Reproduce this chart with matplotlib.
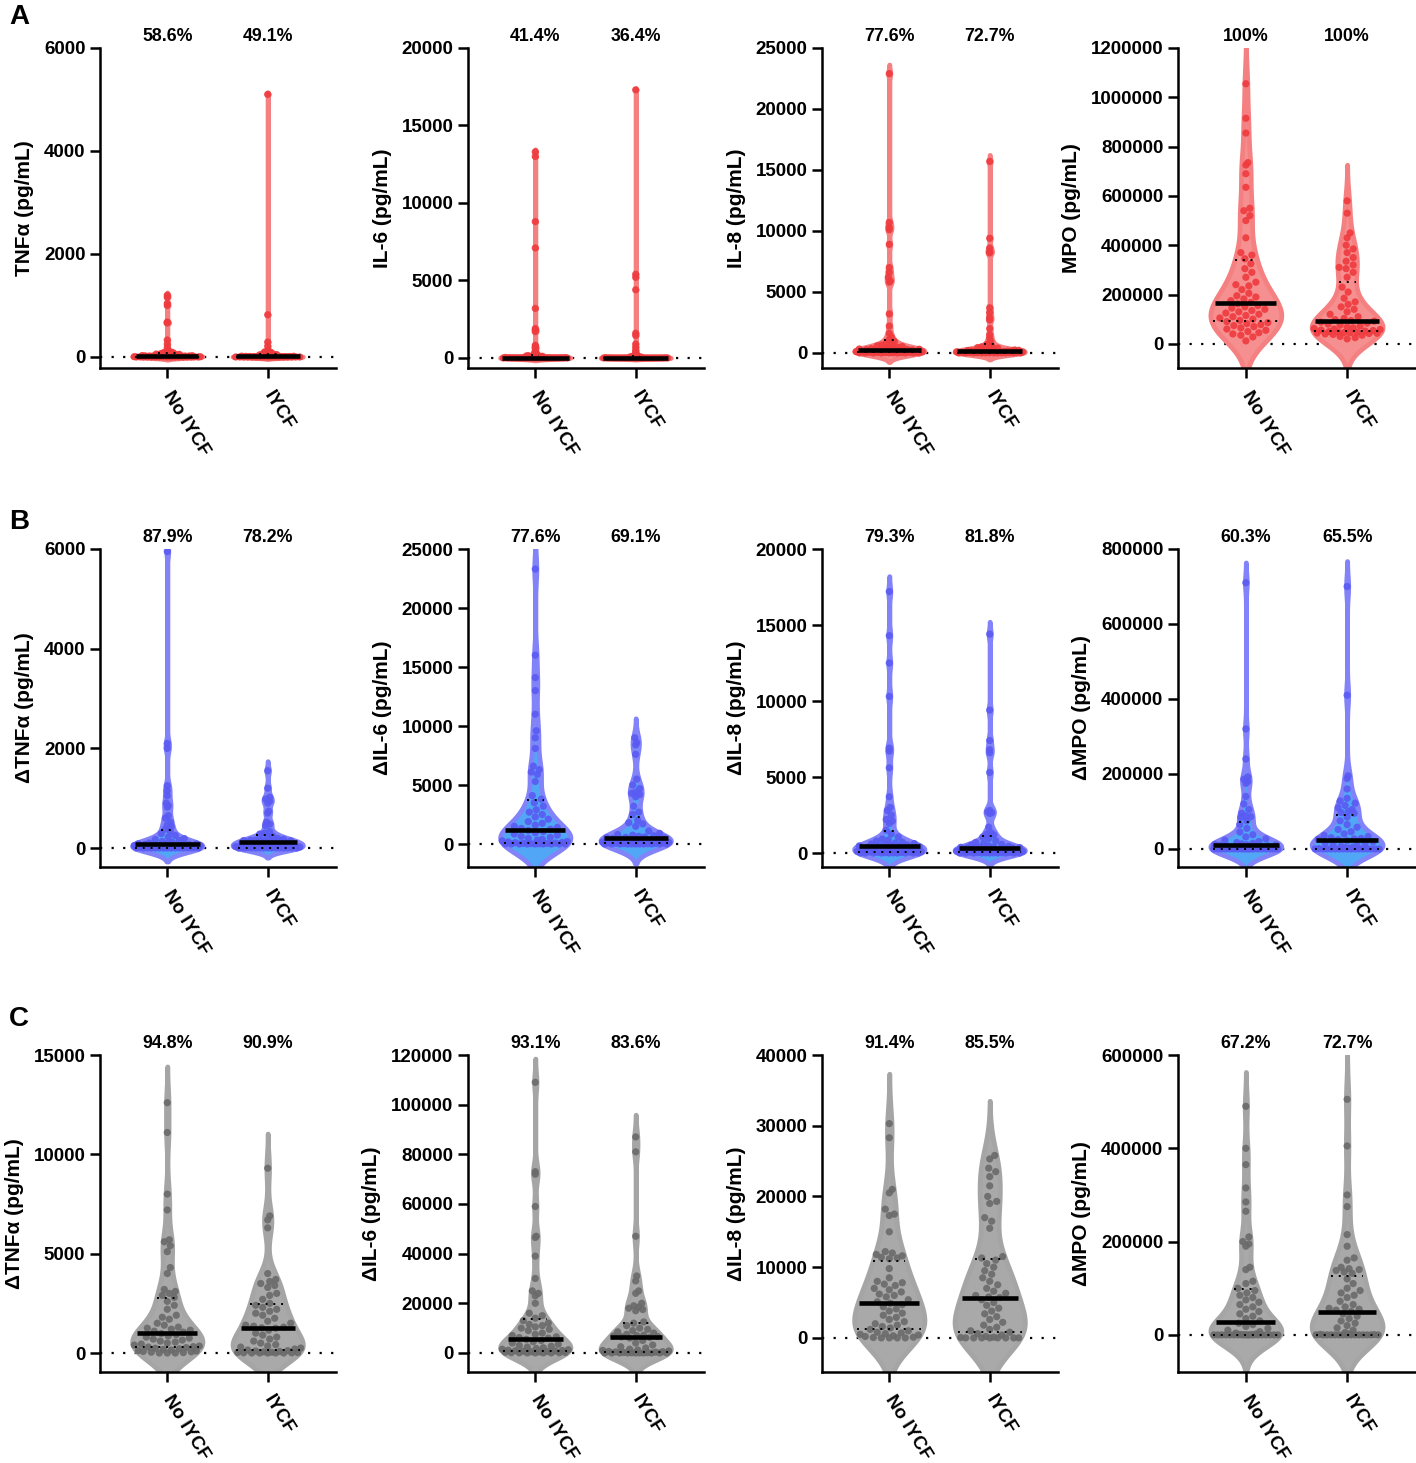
import numpy as np
import matplotlib
matplotlib.use('Agg')
import matplotlib.pyplot as plt
from matplotlib.transforms import blended_transform_factory

plt.rcParams['font.family'] = ['Liberation Sans', 'DejaVu Sans']
plt.rcParams['font.weight'] = 'bold'
plt.rcParams['axes.labelweight'] = 'bold'

# ---------------- data ----------------
categories = ['No IYCF', 'IYCF']

# Row A (baseline)
tnf_no = [1200, 1160, 1040, 1000, 680, 660, 330, 250, 180, 120, 105, 95, 88, 80, 74, 68, 62, 57, 52, 48,
          44, 40, 37, 34, 31, 28, 25, 22, 20, 18, 16, 14, 12, 10, 9, 8, 7, 6, 5, 4,
          4, 3, 3, 2, 2, 1, 1, 1, 0, 0, 0, 0, 0, 0, 0, 0, 0, 0]
tnf_iycf = [5100, 820, 290, 210, 130, 110, 100, 92, 85, 78, 72, 66, 60, 55, 50, 46, 42, 38, 34, 30,
            27, 24, 21, 18, 16, 14, 12, 10, 9, 8, 7, 6, 5, 4, 3, 3, 2, 2, 1, 1,
            1, 0, 0, 0, 0, 0, 0, 0, 0, 0, 0, 0, 0, 0, 0]
il6_no = [13300, 13000, 8800, 7100, 3200, 1900, 1800, 1700, 820, 700, 620, 450, 350, 280, 220, 180, 150, 130, 110, 95,
          80, 70, 60, 50, 42, 35, 28, 22, 18, 14, 10, 8, 6, 4, 2, 1, 0, 0, 0, 0,
          0, 0, 0, 0, 0, 0, 0, 0, 0, 0, 0, 0, 0, 0, 0, 0, 0, 0]
il6_iycf = [17300, 5400, 5200, 4400, 1600, 1450, 900, 700, 520, 400, 300, 240, 190, 150, 120, 100, 85, 70, 58, 46,
            36, 28, 20, 14, 9, 5, 2, 0, 0, 0, 0, 0, 0, 0, 0, 0, 0, 0, 0, 0,
            0, 0, 0, 0, 0, 0, 0, 0, 0, 0, 0, 0, 0, 0, 0]
il8_no = [22900, 10700, 10300, 10100, 8900, 7000, 6600, 6200, 5900, 5800, 3200, 2200, 1600, 1300, 1100, 950, 820, 720, 640, 580,
          520, 470, 430, 400, 370, 345, 320, 300, 280, 260, 240, 220, 200, 185, 170, 155, 140, 125, 110, 100,
          90, 80, 70, 60, 50, 40, 30, 20, 12, 6, 0, 0, 0, 0, 0, 0, 0, 0]
il8_iycf = [15700, 9400, 8600, 8300, 8200, 3700, 3300, 2900, 2700, 2000, 1500, 1200, 950, 800, 680, 580, 500, 440, 390, 340,
            300, 270, 240, 215, 195, 180, 165, 150, 138, 126, 115, 104, 94, 85, 76, 68, 60, 52, 45, 38,
            30, 22, 15, 8, 0, 0, 0, 0, 0, 0, 0, 0, 0, 0, 0]
mpo_no = [1055000, 915000, 855000, 735000, 725000, 690000, 635000, 550000, 540000, 520000, 500000, 430000, 370000, 360000,
          345000, 325000, 305000, 290000, 270000, 250000, 240000, 235000, 220000, 205000, 195000, 190000, 182000, 175000,
          168000, 162000, 155000, 150000, 145000, 140000, 135000, 130000, 125000, 120000, 115000, 110000, 105000, 100000,
          95000, 90000, 86000, 82000, 78000, 74000, 70000, 65000, 60000, 55000, 50000, 45000, 40000, 35000, 28000, 12000]
mpo_iycf = [580000, 530000, 450000, 430000, 400000, 385000, 370000, 350000, 335000, 320000, 310000, 305000, 290000, 270000,
            230000, 210000, 185000, 170000, 160000, 150000, 140000, 130000, 120000, 110000, 103000, 98000, 94000, 92000,
            88000, 84000, 80000, 76000, 72000, 68000, 65000, 62000, 60000, 58000, 56000, 54000, 52000, 50000, 48000,
            47000, 46000, 45000, 44000, 43000, 42000, 40000, 38000, 35000, 30000, 25000, 20000]

# Row B (delta)
dtnf_b_no = [5950, 2100, 2000, 1250, 1150, 1050, 900, 850, 820, 650, 600, 520, 460, 430, 380, 330, 290, 250, 220, 190,
             170, 150, 130, 115, 100, 92, 85, 80, 75, 70, 65, 60, 55, 50, 45, 40, 35, 30, 25, 20,
             15, 10, 6, 3, 2, 1, 0, 0, 0, 0, 0, 0, 0, 0, 0, 0, 0, 0]
dtnf_b_iycf = [1550, 1200, 1020, 980, 940, 900, 740, 700, 520, 480, 450, 330, 300, 280, 240, 210, 190, 175, 165, 160,
               155, 150, 145, 140, 135, 130, 128, 125, 120, 110, 100, 90, 80, 70, 60, 50, 40, 30, 20, 12,
               6, 3, 1, 0, 0, 0, 0, 0, 0, 0, 0, 0, 0, 0, 0]
dil6_b_no = [23300, 16000, 14100, 13000, 11000, 9600, 9000, 8100, 6600, 6300, 6100, 5900, 5300, 4100, 3800, 3500, 3200, 2900,
             2700, 2500, 2300, 2100, 1900, 1750, 1600, 1500, 1400, 1320, 1250, 1150, 1050, 950, 850, 750, 650, 560,
             480, 400, 330, 270, 220, 180, 140, 110, 80, 60, 45, 30, 20, 10, 5, 0, 0, 0, 0, 0, 0, 0]
dil6_b_iycf = [9000, 8600, 8400, 7600, 5500, 5000, 4700, 4400, 4300, 4200, 4000, 3200, 2700, 2500, 2000, 1800, 1700, 1500,
               1100, 900, 800, 750, 700, 650, 600, 560, 530, 500, 470, 430, 390, 350, 310, 270, 230, 200,
               170, 140, 110, 90, 70, 50, 35, 20, 10, 5, 0, 0, 0, 0, 0, 0, 0, 0, 0]
dil8_b_no = [17200, 14300, 12500, 10300, 6900, 6700, 5600, 3700, 3000, 2800, 2500, 2200, 2100, 1950, 1500, 1250, 1050, 920,
             850, 780, 720, 660, 620, 590, 560, 530, 510, 490, 470, 430, 400, 370, 340, 310, 280, 250,
             220, 195, 170, 150, 130, 110, 90, 75, 60, 45, 30, 20, 10, 5, 2, 0, 0, 0, 0, 0, 0, 0]
dil8_b_iycf = [14400, 9400, 7400, 6800, 6600, 5300, 2800, 2700, 2650, 2600, 1700, 1350, 1250, 1200, 1050, 950, 800, 700,
               620, 560, 510, 470, 440, 410, 390, 375, 360, 350, 330, 300, 270, 240, 210, 180, 160, 140,
               120, 100, 85, 70, 55, 40, 30, 20, 10, 5, 2, 1, 0, 0, 0, 0, 0, 0, 0]
dmpo_b_no = [710000, 320000, 240000, 192000, 186000, 180000, 175000, 140000, 120000, 105000, 95000, 88000, 86000, 84000,
             75000, 65000, 55000, 45000, 38000, 32000, 27000, 23000, 20000, 17000, 15000, 13500, 12000, 11000,
             10500, 9500, 8500, 7500, 6500, 5500, 4500, 3500, 2500, 1500, 800, 400, 0, 0,
             0, 0, 0, 0, 0, 0, 0, 0, 0, 0, 0, 0, 0, 0, 0, 0]
dmpo_b_iycf = [700000, 410000, 195000, 188000, 160000, 135000, 128000, 122000, 116000, 110000, 105000, 100000, 97000, 95000,
               85000, 75000, 65000, 58000, 52000, 46000, 40000, 36000, 33000, 30000, 28000, 27000, 26000, 25000,
               22000, 19000, 16000, 13000, 11000, 9000, 7000, 5000, 3500, 2000, 1000, 0, 0, 0,
               0, 0, 0, 0, 0, 0, 0, 0, 0, 0, 0, 0, 0]

# Row C (delta)
dtnf_c_no = [12600, 11100, 8000, 7200, 5700, 5600, 5400, 5100, 4300, 4000, 3200, 3100, 3000, 2900, 2800, 2600, 2400, 2200,
             1900, 1800, 1700, 1500, 1400, 1300, 1250, 1200, 1150, 1100, 1050, 980, 920, 860, 800, 750, 700, 650,
             600, 550, 500, 450, 400, 350, 320, 300, 270, 240, 210, 180, 150, 120, 100, 80, 60, 40, 20, 0, 0, 0]
dtnf_c_iycf = [9300, 6900, 6700, 6300, 4000, 3700, 3600, 3500, 3400, 3300, 3000, 2900, 2700, 2500, 2400, 2300, 2200, 2100,
               2000, 1900, 1750, 1600, 1500, 1400, 1350, 1300, 1270, 1250, 1150, 1000, 900, 800, 700, 600, 500,
               420, 350, 300, 250, 200, 150, 120, 100, 80, 60, 40, 30, 20, 10, 5, 0, 0, 0, 0, 0]
dil6_c_no = [109000, 73000, 72000, 59000, 47000, 46500, 39000, 30000, 25000, 24000, 23000, 20000, 16000, 15000, 14000,
             13000, 12000, 11500, 11000, 10500, 10000, 9500, 9000, 8000, 7500, 7000, 6500, 6200, 6000, 5500, 5000,
             4500, 4000, 3500, 3000, 2700, 2400, 2100, 1800, 1500, 1300, 1100, 1000, 900, 800, 700, 600, 500, 400,
             300, 200, 100, 60, 30, 0, 0, 0, 0]
dil6_c_iycf = [87000, 81000, 47000, 31000, 29000, 25000, 24000, 20000, 19000, 18500, 18000, 17500, 17000, 12500, 12000,
               11000, 10000, 9500, 9000, 8500, 8000, 7500, 7200, 7000, 6800, 6600, 6500, 6300, 6000, 5000, 4000,
               3200, 2500, 2000, 1500, 1200, 1000, 800, 600, 500, 400, 300, 200, 100, 50, 20, 0, 0, 0, 0, 0, 0, 0, 0, 0]
dil8_c_no = [30300, 28300, 21000, 20500, 18200, 17500, 17300, 15000, 12200, 12000, 11800, 11600, 11400, 11300, 11200,
             9800, 8500, 8000, 7800, 7600, 7400, 7000, 6800, 6500, 6200, 6000, 5800, 5400, 5100, 4900, 4700, 4400,
             4100, 3800, 3500, 3200, 2900, 2600, 2300, 2000, 1800, 1600, 1400, 1200, 1000, 800, 700, 600, 500, 400,
             300, 200, 100, 50, 0, 0, 0, 0]
dil8_c_iycf = [25800, 25300, 24000, 23500, 22800, 21500, 20000, 19300, 19000, 17000, 16500, 15500, 11500, 11300, 11000,
               10500, 10000, 9500, 9000, 8500, 8000, 7500, 7000, 6600, 6300, 6000, 5800, 5700, 5400, 5000, 4600,
               4200, 3800, 3400, 3000, 2600, 2200, 1800, 1500, 1200, 1000, 800, 600, 400, 200, 100, 50,
               0, 0, 0, 0, 0, 0, 0, 0]
dmpo_c_no = [490000, 400000, 365000, 315000, 285000, 265000, 210000, 200000, 195000, 190000, 145000, 140000, 115000, 110000,
             100000, 95000, 90000, 85000, 80000, 75000, 70000, 65000, 60000, 55000, 50000, 45000, 40000, 35000, 30000,
             25000, 22000, 18000, 14000, 10000, 7000, 4000, 2000, 1000, 500, 300,
             0, 0, 0, 0, 0, 0, 0, 0, 0, 0, 0, 0, 0, 0, 0, 0, 0, 0]
dmpo_c_iycf = [505000, 405000, 300000, 275000, 215000, 190000, 165000, 160000, 145000, 142000, 140000, 138000, 135000, 132000,
               120000, 110000, 100000, 95000, 90000, 85000, 80000, 72000, 65000, 60000, 57000, 55000, 53000, 50000,
               45000, 40000, 35000, 30000, 25000, 20000, 15000, 10000, 5000, 2000, 1000, 500,
               0, 0, 0, 0, 0, 0, 0, 0, 0, 0, 0, 0, 0, 0, 0]

# y-axis ticks
ticks_tnf_a = [0, 2000, 4000, 6000]
ticks_il6_a = [0, 5000, 10000, 15000, 20000]
ticks_il8_a = [0, 5000, 10000, 15000, 20000, 25000]
ticks_mpo_a = [0, 200000, 400000, 600000, 800000, 1000000, 1200000]
ticks_tnf_b = [0, 2000, 4000, 6000]
ticks_il6_b = [0, 5000, 10000, 15000, 20000, 25000]
ticks_il8_b = [0, 5000, 10000, 15000, 20000]
ticks_mpo_b = [0, 200000, 400000, 600000, 800000]
ticks_tnf_c = [0, 5000, 10000, 15000]
ticks_il6_c = [0, 20000, 40000, 60000, 80000, 100000, 120000]
ticks_il8_c = [0, 10000, 20000, 30000, 40000]
ticks_mpo_c = [0, 200000, 400000, 600000]

pct_a = [('58.6%', '49.1%'), ('41.4%', '36.4%'), ('77.6%', '72.7%'), ('100%', '100%')]
pct_b = [('87.9%', '78.2%'), ('77.6%', '69.1%'), ('79.3%', '81.8%'), ('60.3%', '65.5%')]
pct_c = [('94.8%', '90.9%'), ('93.1%', '83.6%'), ('91.4%', '85.5%'), ('67.2%', '72.7%')]

ylabels_a = ['TNFα (pg/mL)', 'IL-6 (pg/mL)', 'IL-8 (pg/mL)', 'MPO (pg/mL)']
ylabels_d = ['ΔTNFα (pg/mL)', 'ΔIL-6 (pg/mL)', 'ΔIL-8 (pg/mL)', 'ΔMPO (pg/mL)']

# ---------------- layout / style ----------------
W, H = 1416, 1463
fig = plt.figure(figsize=(W / 100, H / 100), dpi=100)

row_px = [(48, 368), (549, 867), (1055, 1372)]
col_px = [(100, 336), (468, 704), (822, 1058), (1178, 1416)]
ymins = [[-214, -647, -1238, -98000],
         [-381, -1949, -921, -48160],
         [-956, -7677, -4823, -79570]]
row_styles = [
    dict(fill='#F69090', edge='#F48081', pts='#EF3A3E'),
    dict(fill='#52A6F6', edge='#8282F9', pts='#5A5AF2'),
    dict(fill='#A9A9A9', edge='#A5A5A5', pts='#6A6A6A'),
]
rows = [
    dict(data=[(tnf_no, tnf_iycf), (il6_no, il6_iycf), (il8_no, il8_iycf), (mpo_no, mpo_iycf)],
         ticks=[ticks_tnf_a, ticks_il6_a, ticks_il8_a, ticks_mpo_a], pct=pct_a, labels=ylabels_a, letter='A'),
    dict(data=[(dtnf_b_no, dtnf_b_iycf), (dil6_b_no, dil6_b_iycf), (dil8_b_no, dil8_b_iycf), (dmpo_b_no, dmpo_b_iycf)],
         ticks=[ticks_tnf_b, ticks_il6_b, ticks_il8_b, ticks_mpo_b], pct=pct_b, labels=ylabels_d, letter='B'),
    dict(data=[(dtnf_c_no, dtnf_c_iycf), (dil6_c_no, dil6_c_iycf), (dil8_c_no, dil8_c_iycf), (dmpo_c_no, dmpo_c_iycf)],
         ticks=[ticks_tnf_c, ticks_il6_c, ticks_il8_c, ticks_mpo_c], pct=pct_c, labels=ylabels_d, letter='C'),
]
letter_y = [17, 522, 1019]

XLIM = (-0.67, 1.68)
MAXW = 0.35
DOT = 7.2  # marker diameter in px


def kde_profile(vals):
    v = np.asarray(vals, float)
    n = len(v)
    sd = v.std(ddof=1)
    q1, q3 = np.percentile(v, [25, 75])
    s = min(sd, (q3 - q1) / 1.34) if q3 > q1 else sd
    h = 0.9 * s * n ** (-0.2)
    grid = np.linspace(v.min() - 2.5 * h, v.max() + 2.5 * h, 800)
    dens = np.exp(-0.5 * ((grid[:, None] - v[None, :]) / h) ** 2).sum(axis=1)
    return grid, dens / dens.max() * MAXW


def swarm(vals, grid, half, ppx, ppy):
    v = np.asarray(vals, float)
    xs = np.zeros(len(v))
    px, py = [], []
    for i in np.argsort(v):
        ypx = v[i] * ppy
        cap = max(np.interp(v[i], grid, half) * ppx - DOT * 0.2, 0.0)
        steps = np.arange(1.0, cap + 0.01, 1.0)
        cands = np.concatenate([[0.0], np.column_stack([steps, -steps]).ravel()])
        if px:
            ax_ = np.array(px)
            ay_ = np.array(py)
            dist = np.sqrt((cands[:, None] - ax_[None, :]) ** 2 + (ypx - ay_[None, :]) ** 2).min(axis=1)
            ok = np.where(dist >= DOT)[0]
            j = ok[0] if len(ok) else int(np.argmax(dist))
        else:
            j = 0
        xs[i] = cands[j] / ppx
        px.append(cands[j])
        py.append(ypx)
    return xs


for r, row in enumerate(rows):
    top_px, bot_px = row_px[r]
    st = row_styles[r]
    for c in range(4):
        l_px, r_px = col_px[c]
        ax = fig.add_axes([l_px / W, 1 - bot_px / H, (r_px - l_px) / W, (bot_px - top_px) / H])
        ticks = row['ticks'][c]
        ymin, ymax = ymins[r][c], ticks[-1]
        ax.set_xlim(*XLIM)
        ax.set_ylim(ymin, ymax)
        ppx = (r_px - l_px) / (XLIM[1] - XLIM[0])
        ppy = (bot_px - top_px) / (ymax - ymin)

        ax.axhline(0, color='black', lw=1.6, ls=(0, (1, 4.2)), zorder=0.5)

        for k, vals in enumerate(row['data'][c]):
            grid, half = kde_profile(vals)
            ax.fill_betweenx(grid, k - half, k + half, facecolor=st['fill'], edgecolor=st['edge'],
                             linewidth=3.4, zorder=1)
            xo = swarm(vals, grid, half, ppx, ppy)
            ax.scatter(k + xo, vals, s=27, color=st['pts'], edgecolors='none', alpha=0.9, zorder=2)
            q1, med, q3 = np.percentile(vals, [25, 50, 75])
            wm = np.interp(med, grid, half) * 0.95
            ax.plot([k - wm, k + wm], [med, med], color='black', lw=3.3, solid_capstyle='butt', zorder=4)
            for q in (q1, q3):
                wq = np.interp(q, grid, half) * 0.95
                ax.plot([k - wq, k + wq], [q, q], color='black', lw=1.4, ls=(0, (1, 3)), zorder=4)
            ax.annotate(row['pct'][c][k], xy=(k, 1), xycoords=blended_transform_factory(ax.transData, ax.transAxes),
                        xytext=(0, 2.5), textcoords='offset points', ha='center', va='bottom',
                        fontsize=12.8, fontweight='bold')

        ax.set_yticks(ticks)
        ax.set_yticklabels([str(t) for t in ticks])
        ax.set_xticks([0, 1])
        ax.set_xticklabels(categories, rotation=-58, ha='left', va='center', rotation_mode='anchor')
        ax.tick_params(axis='both', direction='out', length=7, width=1.8, labelsize=13.5)
        ax.tick_params(axis='x', pad=11)
        for sp in ('top', 'right'):
            ax.spines[sp].set_visible(False)
        for sp in ('left', 'bottom'):
            ax.spines[sp].set_linewidth(1.8)
        ax.set_ylabel(row['labels'][c], fontsize=15, fontweight='bold', labelpad=7)

    fig.text(9 / W, 1 - letter_y[r] / H, row['letter'], fontsize=20, fontweight='bold', ha='left', va='center')

fig.savefig('out.png', dpi=100)
